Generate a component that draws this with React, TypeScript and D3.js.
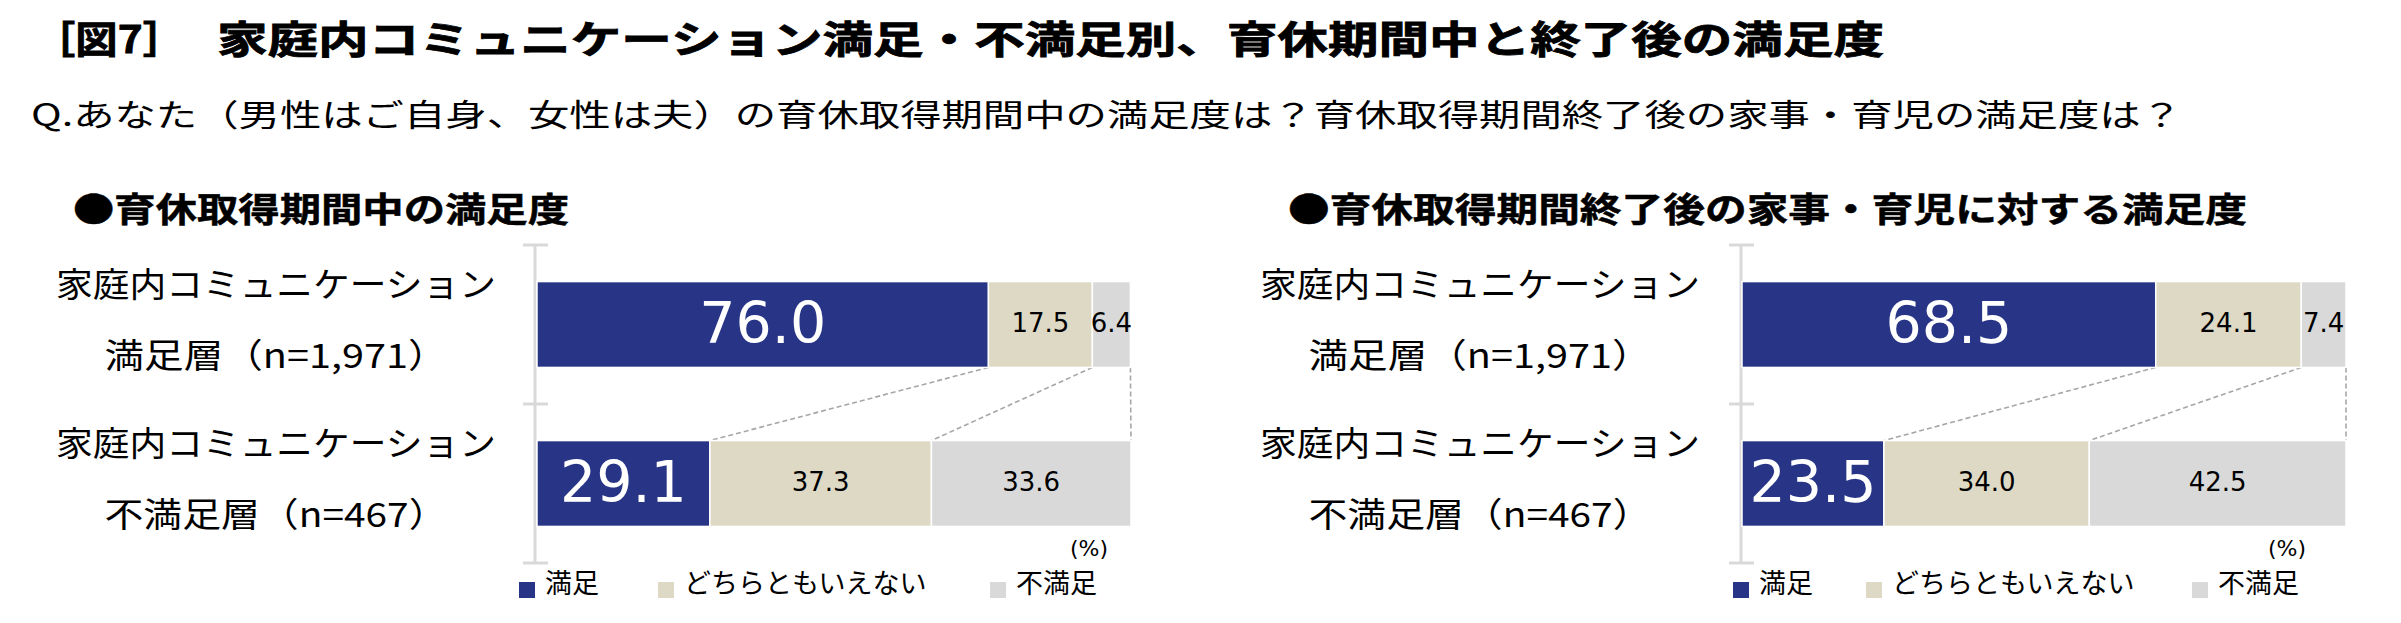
import React from 'react';
import * as d3 from 'd3';

// ---------- data ----------
const titleBracket = '［図7］';
const titleText = '家庭内コミュニケーション満足・不満足別、育休期間中と終了後の満足度';
const questionText =
  'Q.あなた（男性はご自身、女性は夫）の育休取得期間中の満足度は？育休取得期間終了後の家事・育児の満足度は？';
const panelTitles = ['●育休取得期間中の満足度', '●育休取得期間終了後の家事・育児に対する満足度'];
const categoryLine1 = ['家庭内コミュニケーション', '家庭内コミュニケーション'];
const categoryLine2 = ['満足層（n=1,971）', '不満足層（n=467）'];
const seriesNames = ['満足', 'どちらともいえない', '不満足'];
const duringSatisfied = [76.0, 29.1];
const duringNeutral = [17.5, 37.3];
const duringDissatisfied = [6.4, 33.6];
const afterSatisfied = [68.5, 23.5];
const afterNeutral = [24.1, 34.0];
const afterDissatisfied = [7.4, 42.5];
const unitLabel = '(%)';

// ---------- layout / style ----------
const W = 2401;
const H = 623;
const colors = ['#283587', '#ddd9c4', '#d9d9d9'];
const CJK = "'Noto Sans CJK JP', 'Noto Sans CJK SC', sans-serif";
const NUM = "'DejaVu Sans', 'Noto Sans CJK JP', sans-serif";

const panels = [
  {
    title: panelTitles[0],
    series: [duringSatisfied, duringNeutral, duringDissatisfied],
    axisX: 535,
    barStart: 537,
    barWidth: 594,
    labelCX: 276,
    headerX: 73,
    headerLen: 496,
    pctX: 1108,
    legendX: [519, 658, 990],
  },
  {
    title: panelTitles[1],
    series: [afterSatisfied, afterNeutral, afterDissatisfied],
    axisX: 1741,
    barStart: 1742,
    barWidth: 604,
    labelCX: 1480,
    headerX: 1288,
    headerLen: 959,
    pctX: 2306,
    legendX: [1733, 1866, 2192],
  },
];

const yBand = d3
  .scaleBand<number>()
  .domain(d3.range(categoryLine1.length))
  .range([245, 563])
  .paddingInner(0.46)
  .paddingOuter(0.23);

function Panel({ p }: { p: (typeof panels)[number] }) {
  const x = d3.scaleLinear().domain([0, 100]).range([p.barStart, p.barStart + p.barWidth]);
  const rows = categoryLine1.map((_, i) => {
    const obj: Record<string, number> = {};
    seriesNames.forEach((s, k) => (obj[s] = p.series[k][i]));
    return obj;
  });
  const stacked = d3.stack<Record<string, number>>().keys(seriesNames)(rows);
  const bw = yBand.bandwidth();
  const step = yBand.step();
  const [r0, r1] = yBand.range();
  const tickYs = d3.range(categoryLine1.length + 1).map((i) => r0 + i * step);

  return (
    <g>
      <text
        x={p.headerX}
        y={222}
        fontFamily={CJK}
        fontWeight={700}
        fontSize={34}
        textLength={p.headerLen}
        lengthAdjust="spacingAndGlyphs"
        fill="#000"
        stroke="#000"
        strokeWidth={0.5}
      >
        {p.title}
      </text>

      {/* category labels */}
      {categoryLine1.map((l1, i) => {
        const cy = (yBand(i) as number) + bw / 2;
        return (
          <g key={'lab' + i}>
            <text
              x={p.labelCX}
              y={cy - 28}
              textAnchor="middle"
              fontFamily={CJK}
              fontSize={34}
              textLength={440}
              lengthAdjust="spacingAndGlyphs"
              fill="#000"
            >
              {l1}
            </text>
            <text
              x={p.labelCX}
              y={cy + 43}
              textAnchor="middle"
              fontFamily={CJK}
              fontSize={34}
              textLength={343}
              lengthAdjust="spacingAndGlyphs"
              fill="#000"
            >
              {categoryLine2[i]}
            </text>
          </g>
        );
      })}

      {/* axis */}
      <line x1={p.axisX} x2={p.axisX} y1={r0} y2={r1} stroke="#d9d9d9" strokeWidth={3} />
      {tickYs.map((ty, i) => (
        <line key={'t' + i} x1={p.axisX - 12} x2={p.axisX + 13} y1={ty} y2={ty} stroke="#d9d9d9" strokeWidth={3} />
      ))}

      {/* connectors */}
      {stacked.map((s, k) => (
        <line
          key={'c' + k}
          x1={x(s[0][1])}
          y1={(yBand(0) as number) + bw}
          x2={x(s[1][1])}
          y2={yBand(1) as number}
          stroke="#a6a6a6"
          strokeWidth={1.6}
          strokeDasharray="5,3"
        />
      ))}

      {/* bars */}
      {stacked.map((s, k) =>
        s.map((d, i) => (
          <rect
            key={'b' + k + '-' + i}
            x={x(d[0])}
            y={yBand(i)}
            width={x(d[1]) - x(d[0])}
            height={bw}
            fill={colors[k]}
            stroke="#fff"
            strokeWidth={1.5}
          />
        ))
      )}

      {/* value labels */}
      {stacked.map((s, k) =>
        s.map((d, i) => {
          const big = k === 0;
          const fs = big ? 57 : 26;
          const cy = (yBand(i) as number) + bw / 2 - 2;
          return (
            <text
              key={'v' + k + '-' + i}
              x={(x(d[0]) + x(d[1])) / 2}
              y={cy + fs * 0.364}
              textAnchor="middle"
              fontFamily={NUM}
              fontSize={fs}
              fill={big ? '#fff' : '#000'}
            >
              {d3.format('.1f')(d[1] - d[0])}
            </text>
          );
        })
      )}

      <text x={p.pctX} y={556} textAnchor="end" fontFamily={NUM} fontSize={22} fill="#000">
        {unitLabel}
      </text>

      {/* legend */}
      {seriesNames.map((name, k) => (
        <g key={'lg' + k}>
          <rect x={p.legendX[k]} y={582} width={16} height={16} fill={colors[k]} />
          <text x={p.legendX[k] + 26} y={593} fontFamily={CJK} fontSize={27} fill="#000">
            {name}
          </text>
        </g>
      ))}
    </g>
  );
}

export default function App() {
  return (
    <svg
      width={W}
      height={H}
      viewBox={`0 0 ${W} ${H}`}
      style={{ position: 'absolute', left: 0, top: 0, background: '#fff' }}
    >
      <rect x={0} y={0} width={W} height={H} fill="#fff" />
      <text
        x={33}
        y={53}
        fontFamily={CJK}
        fontWeight={700}
        fontSize={38}
        textLength={152}
        lengthAdjust="spacingAndGlyphs"
        fill="#000"
        stroke="#000"
        strokeWidth={0.8}
      >
        {titleBracket}
      </text>
      <text
        x={217}
        y={53}
        fontFamily={CJK}
        fontWeight={700}
        fontSize={38}
        textLength={1667}
        lengthAdjust="spacingAndGlyphs"
        fill="#000"
        stroke="#000"
        strokeWidth={0.8}
      >
        {titleText}
      </text>
      <text
        x={31}
        y={126}
        fontFamily={CJK}
        fontSize={31}
        textLength={2151}
        lengthAdjust="spacingAndGlyphs"
        fill="#000"
      >
        {questionText}
      </text>
      {panels.map((p, i) => (
        <Panel key={i} p={p} />
      ))}
    </svg>
  );
}
